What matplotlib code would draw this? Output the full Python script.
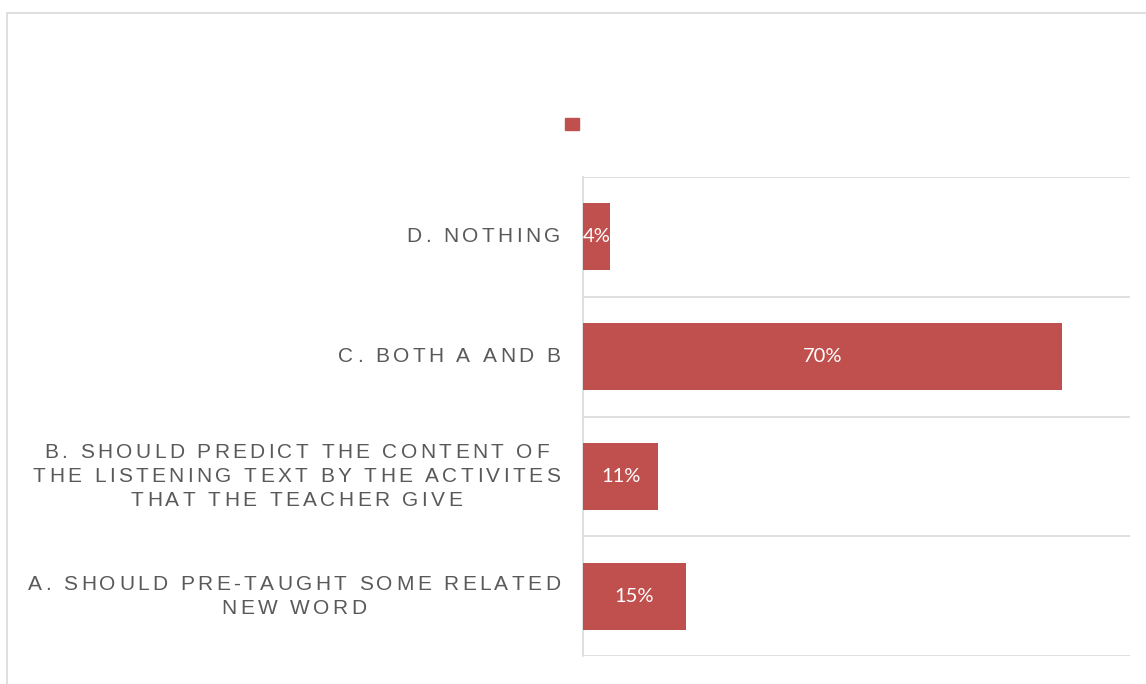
import matplotlib.pyplot as plt
from matplotlib.patches import Patch, Rectangle
from matplotlib.font_manager import FontProperties, findfont, get_font

# survey answers, bottom to top as drawn
categories = [
    "A. SHOULD PRE-TAUGHT SOME RELATED\nNEW WORD",
    "B. SHOULD PREDICT THE CONTENT OF\nTHE LISTENING TEXT BY THE ACTIVITES\nTHAT THE TEACHER GIVE",
    "C. BOTH A AND B",
    "D. NOTHING",
]
shares = [0.15, 0.11, 0.70, 0.04]
labels = ["15%", "11%", "70%", "4%"]

bar_color = "#C0504D"
text_gray = "#595959"
line_gray = "#D9D9D9"

W, H = 1146, 684
DPI = 100

fig = plt.figure(figsize=(W / DPI, H / DPI), dpi=DPI)
fig.patch.set_facecolor("white")

# outer chart-area border (runs off the right/bottom edges)
fig.patches.append(Rectangle((7 / W, -0.1), 2.0, 1 - 13 / H + 0.1,
                             transform=fig.transFigure, fill=False,
                             edgecolor=line_gray, linewidth=1.2))

ax = fig.add_axes([583 / W, (H - 656) / H, (1130 - 583) / W, (656 - 177) / H])

y = list(range(len(categories)))
ax.barh(y, shares, height=0.56, color=bar_color, zorder=3)
ax.set_xlim(0, 0.8)
ax.set_ylim(-0.5, len(categories) - 0.5)

# category separators instead of tick gridlines
ax.set_yticks([i - 0.5 for i in range(len(categories) + 1)], minor=True)
ax.set_yticks([])
ax.set_xticks([])
ax.grid(which="minor", axis="y", color=line_gray, linewidth=1.2)
ax.tick_params(which="both", length=0)
for side in ["top", "right", "bottom"]:
    ax.spines[side].set_visible(False)
ax.spines["left"].set_color(line_gray)
ax.spines["left"].set_linewidth(1.2)

for yi, v, lab in zip(y, shares, labels):
    ax.text(v / 2, yi, lab, ha="center", va="center", color="white",
            fontsize=14.5, family="Lato", zorder=4)

# letter-spaced category labels, one glyph at a time
prop = FontProperties(family="Liberation Sans", size=15)
font = get_font(findfont(prop))
font.set_size(prop.get_size_in_points(), DPI)
spacing = 3.4
line_h = 24
x_right = 560


def advance(ch):
    return font.load_char(ord(ch)).linearHoriAdvance / 65536


def total_width(line):
    return sum(advance(c) for c in line) + spacing * (len(line) - 1)


for yi, cat in zip(y, categories):
    lines = cat.split("\n")
    block_w = max(total_width(l) for l in lines)
    cx = x_right - block_w / 2
    yc = ax.transData.transform((0, yi))[1]
    n = len(lines)
    for i, line in enumerate(lines):
        ly = yc + (n - 1) / 2 * line_h - i * line_h
        x = cx - total_width(line) / 2
        for ch in line:
            a = advance(ch)
            if ch != " ":
                fig.text((x + a / 2) / W, ly / H, ch, fontproperties=prop,
                         color=text_gray, ha="center", va="center")
            x += a + spacing

# series key with no name
fig.legend(handles=[Patch(color=bar_color)], labels=[""], loc="center",
           bbox_to_anchor=(572 / W, 1 - 125 / H), frameon=False,
           handlelength=1.0, handleheight=1.0, handletextpad=0, fontsize=10)

fig.savefig("out.png", dpi=DPI)
